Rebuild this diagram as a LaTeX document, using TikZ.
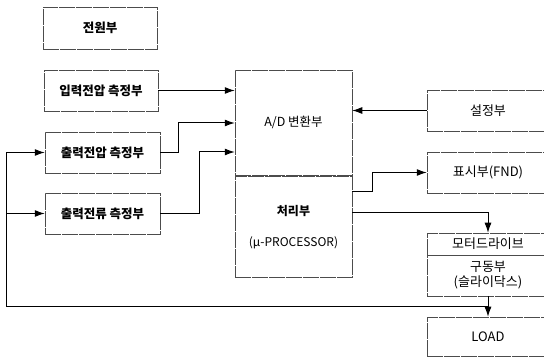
\documentclass[tikz,border=0pt]{standalone}
\usepackage{fontspec}
\setmainfont{Noto Sans CJK KR}
\usetikzlibrary{arrows.meta}

\begin{document}
\begin{tikzpicture}
[x=1pt,y=-1pt,
blk/.style={rectangle,draw=black!70,line width=0.5pt,dash pattern=on 16pt off 1pt,inner sep=0pt,minimum width=115pt,minimum height=41pt,font=\bfseries\fontsize{12.5}{14}\selectfont},
side/.style={blk,minimum width=122pt,font=\fontsize{13}{15}\selectfont},
wire/.style={line width=1pt},
arr/.style={wire,-{Latex[length=10pt,width=7pt]}}]
\useasboundingbox (0,0) rectangle (544,358);
% left column
\node[blk,minimum width=114pt,minimum height=42pt] at (100,28) (pwr) {전원부};
\node[blk,minimum width=114pt] at (101,90.5) (vin) {입력전압 측정부};
\node[blk] at (102.5,152.5) (vout) {출력전압 측정부};
\node[blk] at (102.5,213.5) (iout) {출력전류 측정부};
% centre
\node[blk,minimum width=117pt,minimum height=105pt,font=\fontsize{12.5}{14}\selectfont] at (293.5,122.5) (adc) {A/D 변환부};
\node[blk,minimum width=117pt,minimum height=101pt,align=center,font=\fontsize{12}{14}\selectfont] at (293.5,227) (cpu) {{\bfseries 처리부}\\[17pt](μ-PROCESSOR)};
% right column
\node[side] at (488,110.5) (set) {설정부};
\node[side] at (488,172.5) (disp) {표시부(FND)};
\node[side,minimum height=22pt] at (488,244) (motor) {모터드라이브};
\node[side,align=center] at (488,275.5) (drive) {구동부\\(슬라이닥스)};
\node[side,minimum height=39pt] at (488,336.5) (load) {LOAD};
\coordinate (fb) at (6,307);
\coordinate (dn) at (drive.south);
% connectors
\draw[arr] (vin.east) -- (vin.east -| adc.west);
\draw[arr] (vout.east) -- ++(18,0) |- ([yshift=-0.5pt]adc.west);
\draw[arr] (iout.east) -- ++(39,0) |- ([yshift=-29.5pt]adc.west);
\draw[arr] (set.west) -- (set.west -| adc.east);
\draw[arr] ([yshift=35pt]cpu.east) -- ++(20,0) |- (disp.west);
\draw[arr] ([yshift=14pt]cpu.east) -| (motor.north);
\draw[arr] (dn) -- (load.north);
\draw[wire] (fb -| dn) -- (fb);
\draw[arr] (fb) |- (vout.west);
\draw[arr] (fb |- iout.west) -- (iout.west);
\end{tikzpicture}
\end{document}
